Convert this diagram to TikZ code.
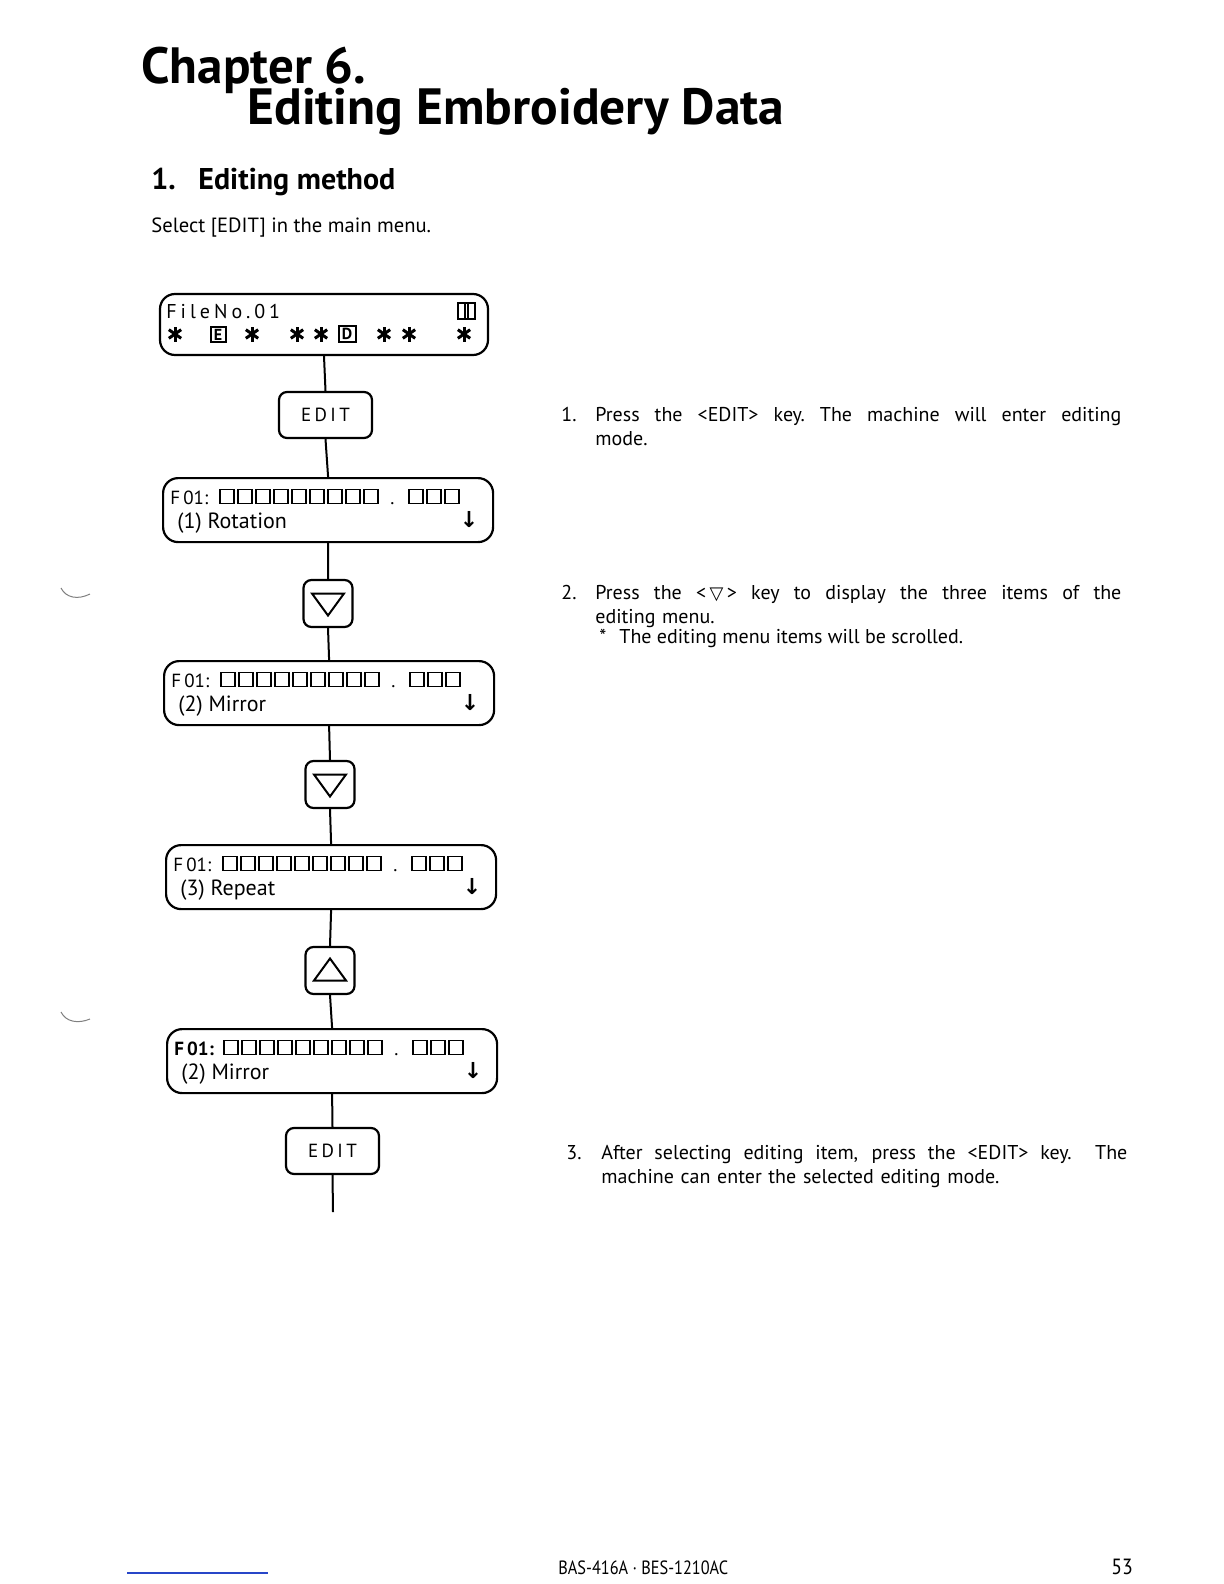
\documentclass[tikz,border=0pt]{standalone}
\usepackage{fontspec}
\setmainfont{PT Sans}
\newfontfamily\dejavu{DejaVu Sans}
\newfontfamily\lcdfont[LetterSpace=18]{PT Sans}
\newfontfamily\lcdwide[LetterSpace=20]{PT Sans}
\usetikzlibrary{calc,arrows.meta}
\newcommand{\spreadline}[2]{{\spaceskip=0.3em plus 1fil\xspaceskip=\spaceskip\hbox to #1{#2}}}
\newcommand{\astk}[2]{\foreach \a in {90,35,145} \draw[ast] ($(#1,#2)+(\a:7.5)$) -- ($(#1,#2)+(\a+180:7.5)$);}
\newcommand{\fbx}[6]{%
  \node[lcd, anchor=north west] (#1) at (#2,#3) {};
  \node[lcdtxt] (#1f) at ($(#1.north west)+(8,27)$) {#5F\,01:};
  \foreach \k in {0,...,8} \draw[sq] ($(#1.north west)+(58+18*\k,12.5)$) rectangle ++(14,14);
  \node[lcdtxt] (#1d) at ($(#1.north west)+(228,27)$) {.};
  \foreach \k in {0,1,2} \draw[sq] ($(#1.north west)+(247+18*\k,12.5)$) rectangle ++(14,14);
  \node[lbltxt] (#1l) at ($(#1.north west)+(15,51)$) {#4};
  \node[inner sep=0pt, font=\dejavu\bfseries\fontsize{11}{11}\selectfont] (#1a) at ($(#1.north east)+(-25,43)$) {↓};
}
\newcommand{\trikey}[4]{%
  \node[keybox, minimum width=24.5pt, minimum height=23.5pt] (#1) at (#2,#3) {};
  \draw[tri] ($(#1.center)+(-16,#4)$) -- ($(#1.center)+(16,#4)$) -- ($(#1.center)+(0,-#4*1.2)$) -- cycle;
}
\begin{document}
\begin{tikzpicture}[x=0.5pt,y=-0.5pt,
  lcd/.style={draw, line width=1.1pt, rounded corners=7.5pt, minimum width=165pt, minimum height=32pt, inner sep=0pt},
  keybox/.style={draw, line width=1.1pt, rounded corners=4pt, inner sep=0pt},
  editkey/.style={keybox, minimum width=46.5pt, minimum height=23pt, font=\lcdfont\fontsize{9.5}{10}\selectfont},
  conn/.style={line width=1pt},
  sq/.style={line width=0.55pt},
  tri/.style={line width=1pt, line join=miter},
  txt/.style={inner sep=0pt, anchor=base west, font=\fontsize{10}{12}\selectfont},
  lcdtxt/.style={inner sep=0pt, anchor=base west, font=\fontsize{9.5}{11}\selectfont},
  lbltxt/.style={inner sep=0pt, anchor=base west, font=\fontsize{11}{12}\selectfont},
  ast/.style={line width=1.5pt},
  lettbox/.style={draw, line width=1pt, inner sep=0.6pt, font=\bfseries\fontsize{8}{8}\selectfont}
]
\useasboundingbox (0,0) rectangle (1224,1584);
\fill[white] (0,0) rectangle (1224,1584);

% titles
\node[inner sep=0pt, anchor=base west, font=\bfseries\fontsize{25.5}{25.5}\selectfont] (t1) at (141,84) {\raisebox{0pt}[\height][0pt]{Chapter 6.}};
\node[inner sep=0pt, anchor=base west, font=\bfseries\fontsize{25.5}{25.5}\selectfont] (t2) at (247,125) {\raisebox{0pt}[0.72em][\depth]{\scalebox{1.01}[1]{Editing Embroidery Data}}};
\node[inner sep=0pt, anchor=base west, font=\bfseries\fontsize{15}{15}\selectfont] (h1n) at (151,189) {1.};
\node[inner sep=0pt, anchor=base west, font=\bfseries\fontsize{15}{15}\selectfont] (h1) at (198,189) {Editing method};
\node[inner sep=0pt, anchor=base west, font=\fontsize{10.3}{12}\selectfont] (sel) at (151,232) {Select [EDIT] in the main menu.};

% first LCD box
\node[lcd, minimum width=164pt, minimum height=30.5pt] (b1) at (324,324.5) {};
\node[inner sep=0pt, anchor=base west, font=\lcdwide\fontsize{10}{11}\selectfont] (b1t) at (166,318) {FileNo.01};
\node[draw, line width=0.9pt, minimum width=8.5pt, minimum height=8pt, inner sep=0pt] (b1i) at (466.5,311) {};
\draw[line width=0.9pt] ($(b1i.north)+(-1.5,0)$) -- ($(b1i.south)+(-1.5,0)$);
\draw[line width=0.9pt] ($(b1i.north)+(1.5,0)$) -- ($(b1i.south)+(1.5,0)$);
\astk{175}{334}
\node[lettbox, minimum width=7.5pt, minimum height=7.5pt] (bE) at (218,334.5) {E};
\astk{252}{334}
\astk{297}{334}
\astk{321}{334}
\node[lettbox, minimum width=8.5pt, minimum height=8pt] (bD) at (347,334) {D};
\astk{384}{334}
\astk{409}{334}
\astk{464}{334}

\node[editkey] (e1) at (325.5,415) {EDIT};

\fbx{b2}{162}{477}{(1) Rotation}{}{}
\trikey{k1}{328}{603.5}{-10}
\fbx{b3}{163}{660}{(2) Mirror}{}{}
\trikey{k2}{330}{784.5}{-10}
\fbx{b4}{165}{844}{(3) Repeat}{}{}
\trikey{k3}{330}{970.5}{10}
\fbx{b5}{166}{1028}{(2) Mirror}{\bfseries}{}

\node[editkey] (e2) at (332.5,1151) {EDIT};
\coordinate (end) at (333,1212);

\draw[conn] (b1.south) -- (e1.north);
\draw[conn] (e1.south) -- (b2.north);
\draw[conn] (b2.south) -- (k1.north);
\draw[conn] (k1.south) -- (b3.north);
\draw[conn] (b3.south) -- (k2.north);
\draw[conn] (k2.south) -- (b4.north);
\draw[conn] (b4.south) -- (k3.north);
\draw[conn] (k3.south) -- (b5.north);
\draw[conn] (b5.south) -- (e2.north);
\draw[conn] (e2.south) -- (end);

% right-hand text
\node[txt] (n1) at (561,421) {1.};
\node[txt, text width=263pt, align=left] (p1) at (595,421) {\spreadline{263pt}{Press the {<}EDIT{>} key. The machine will enter editing}\\mode.};
\node[txt] (n2) at (561,599) {2.};
\node[txt, text width=263pt, align=left] (p2) at (595,599) {\spreadline{263pt}{Press the {<}\,{\dejavu\fontsize{9}{9}\selectfont ▽}\,{>} key to display the three items of the}\\editing menu.};
\node[txt] (s2) at (599,643) {*};
\node[txt] (p2b) at (619,643) {The editing menu items will be scrolled.};
\node[txt] (n3) at (566,1159) {3.};
\node[txt, text width=263pt, align=left] (p3) at (601,1159) {\spreadline{263pt}{After selecting editing item, press the {<}EDIT{>} key.\ \ The}\\machine can enter the selected editing mode.};

% footer
\draw[line width=0.6pt, color={rgb,255:red,40;green,70;blue,200}] (127,1573) -- (268,1573);
\node[inner sep=0pt, anchor=base west, font=\fontsize{9.6}{9.6}\selectfont] (foot) at (558,1574) {\scalebox{0.85}[1]{BAS-416A · BES-1210AC}};
\node[inner sep=0pt, anchor=base west, font=\fontsize{11}{11}\selectfont] (pg) at (1111,1574) {\scalebox{0.9}[1]{53}};

% scan marks
\draw[gray, line width=0.5pt] (61,588) .. controls (66,598) and (78,600) .. (90,594);
\draw[gray, line width=0.5pt] (61,1012) .. controls (66,1022) and (78,1024) .. (90,1019);
\end{tikzpicture}
\end{document}
